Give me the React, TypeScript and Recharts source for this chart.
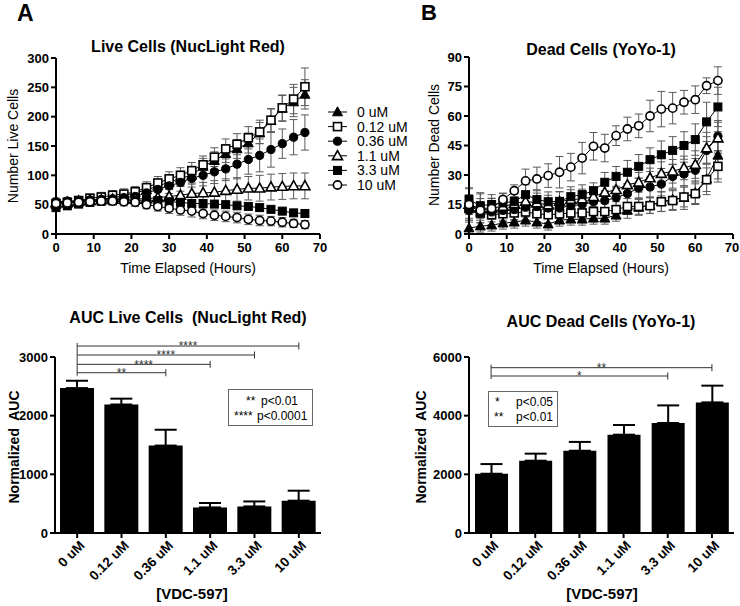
import React from 'react';
import {
  LineChart, Line, XAxis, YAxis, ErrorBar, Legend,
  BarChart, Bar, ReferenceLine,
} from 'recharts';

// ---------- Data ----------
const hours = [0, 3, 6, 9, 12, 15, 18, 21, 24, 27, 30, 33, 36, 39, 42, 45, 48, 51, 54, 57, 60, 63, 66];
const doseLabels = ['0 uM', '0.12 uM', '0.36 uM', '1.1 uM', '3.3 uM', '10 uM'];

// Live cells (NucLight Red) means
const live0 = [50, 52, 54, 57, 59, 62, 65, 70, 75, 82, 88, 95, 100, 115, 125, 137, 145, 155, 172, 193, 214, 225, 238];
const live012 = [52, 54, 57, 61, 63, 66, 68, 72, 79, 87, 94, 100, 108, 118, 131, 145, 153, 164, 174, 194, 215, 230, 251];
const live036 = [55, 56, 57, 58, 59, 60, 62, 64, 70, 76, 82, 88, 95, 100, 106, 111, 119, 127, 134, 144, 154, 165, 173];
const live11 = [53, 54, 56, 57, 58, 59, 59, 60, 60, 62, 64, 66, 69, 70, 71, 74, 76, 78, 78, 80, 81, 82, 82];
const live33 = [45, 48, 51, 54, 56, 57, 58, 57, 58, 57, 55, 54, 52, 52, 51, 50, 48, 47, 45, 42, 39, 36, 35];
const live10 = [52, 53, 54, 55, 56, 56, 55, 54, 50, 47, 44, 41, 39, 35, 32, 30, 28, 25, 23, 22, 20, 18, 16];
// Live cells errors
const live0Err = [6, 6, 7, 7, 8, 8, 8, 9, 10, 10, 12, 12, 13, 14, 15, 15, 16, 17, 18, 20, 22, 25, 25];
const live012Err = [5, 6, 6, 7, 8, 8, 9, 9, 10, 11, 12, 13, 14, 15, 16, 17, 18, 19, 20, 20, 22, 25, 32];
const live036Err = [6, 6, 7, 7, 8, 8, 8, 9, 10, 12, 13, 15, 15, 18, 20, 20, 25, 25, 28, 30, 25, 30, 30];
const live11Err = [6, 6, 7, 7, 7, 8, 8, 8, 9, 10, 12, 15, 16, 18, 20, 20, 20, 20, 22, 22, 22, 22, 22];
const live33Err = [6, 6, 6, 7, 7, 7, 7, 7, 7, 7, 7, 6, 6, 6, 5, 5, 5, 4, 4, 4, 4, 4, 4];
const live10Err = [6, 6, 6, 7, 7, 7, 7, 7, 7, 8, 9, 9, 10, 9, 9, 9, 9, 9, 9, 8, 8, 7, 7];

// Dead cells (YoYo-1) means
const dead0 = [3, 4, 4.5, 5.5, 6, 7, 6, 5, 7, 7.5, 7.5, 8, 8, 9.5, 12, 13.5, 14.5, 16.5, 17.5, 18.5, 21, 28, 40];
const dead012 = [13, 10.7, 9.8, 10.3, 10.7, 11.2, 10.3, 9.8, 10.2, 10.7, 10.7, 11.4, 11.4, 12.4, 14, 14, 14.4, 16.4, 17, 18.8, 20.5, 27.6, 34.4];
const dead036 = [12, 10.7, 11.2, 12, 12.4, 13.6, 14, 13.2, 13.2, 14.4, 15, 16.4, 17, 18.5, 20.5, 23.4, 23.9, 25.4, 29.3, 30.5, 32.4, 42.5, 49.7];
const dead11 = [15, 13, 13.2, 14, 15.4, 16.6, 15.8, 14.7, 16.4, 17.5, 17.8, 19, 21.2, 22.5, 25, 26.3, 28.5, 30.7, 31.9, 33.6, 35.3, 43.7, 48.8];
const dead33 = [17.5, 14.4, 15, 15.8, 16.6, 20, 17.5, 16.4, 16.6, 19, 20, 22, 26.3, 29.3, 31.4, 34.4, 37.8, 40.3, 42.5, 45, 48, 57, 64.6];
const dead10 = [15, 12, 13, 17.5, 22, 27, 28, 29.7, 31.4, 34, 38.6, 44.6, 43.7, 50, 53.4, 55, 60, 63.5, 64, 67, 68.3, 75.4, 78];
// Dead cells errors
const dead0Err = [3, 3, 3, 3, 3, 3, 3, 3, 3, 3, 3, 3, 3, 3, 4, 4, 4, 5, 5, 6, 6, 8, 12];
const dead012Err = [5, 5, 5, 4, 4, 4, 4, 4, 4, 4, 4, 4, 4, 4, 4, 4, 4, 5, 5, 5, 5, 6, 8];
const dead036Err = [5, 5, 5, 5, 5, 5, 5, 5, 5, 5, 5, 5, 5, 5, 5, 5, 5, 6, 6, 6, 6, 7, 8];
const dead11Err = [5, 5, 5, 5, 5, 5, 5, 5, 5, 5, 5, 5, 5, 5, 5, 5, 5, 6, 6, 6, 7, 8, 8];
const dead33Err = [6, 6, 5, 5, 5, 5, 5, 5, 5, 5, 5, 4, 5, 5, 6, 6, 6, 7, 7, 7, 8, 10, 10];
const dead10Err = [8, 9, 5, 3, 3, 6, 6, 6, 8, 7, 8, 7, 7, 5, 6, 6, 8, 9, 8, 6, 7, 4, 7];

// AUC bars
const aucLive = [2470, 2190, 1490, 436, 453, 551];
const aucLiveErr = [125, 100, 270, 75, 85, 170];
const aucDead = [2020, 2465, 2805, 3352, 3750, 4453];
const aucDeadErr = [330, 240, 300, 330, 600, 570];

// Tick labels
const timeTicks = [0, 10, 20, 30, 40, 50, 60, 70];
const liveTicks = [0, 50, 100, 150, 200, 250, 300];
const deadTicks = [0, 15, 30, 45, 60, 75, 90];
const aucLiveTicks = [0, 1000, 2000, 3000];
const aucDeadTicks = [0, 2000, 4000, 6000];

// Significance comparisons (from 0 uM)
const liveSig = [
  { to: '10 uM', y: 3187, stars: '****' },
  { to: '3.3 uM', y: 3034, stars: '****' },
  { to: '1.1 uM', y: 2875, stars: '****' },
  { to: '0.36 uM', y: 2732, stars: '**' },
];
const deadSig = [
  { to: '10 uM', y: 5636, stars: '**' },
  { to: '3.3 uM', y: 5352, stars: '*' },
];

// ---------- Build tables ----------
const keys = ['s0', 's012', 's036', 's11', 's33', 's10'];
const liveMeans = [live0, live012, live036, live11, live33, live10];
const liveErrs = [live0Err, live012Err, live036Err, live11Err, live33Err, live10Err];
const deadMeans = [dead0, dead012, dead036, dead11, dead33, dead10];
const deadErrs = [dead0Err, dead012Err, dead036Err, dead11Err, dead33Err, dead10Err];

function buildTable(means: number[][], errs: number[][]) {
  return hours.map((t, i) => {
    const row: any = { t };
    keys.forEach((k, j) => {
      row[k] = means[j][i];
      row['e' + k] = errs[j][i];
    });
    return row;
  });
}
const liveData = buildTable(liveMeans, liveErrs);
const deadData = buildTable(deadMeans, deadErrs);
const liveBarData = doseLabels.map((d, i) => ({ dose: d, v: aucLive[i], err: [0, aucLiveErr[i]] }));
const deadBarData = doseLabels.map((d, i) => ({ dose: d, v: aucDead[i], err: [0, aucDeadErr[i]] }));

// ---------- Styles ----------
const FONT = '"Liberation Sans", Arial, Helvetica, sans-serif';
const markerStyles = [
  { shape: 'triangle', filled: true },
  { shape: 'square', filled: false },
  { shape: 'circle', filled: true },
  { shape: 'triangle', filled: false },
  { shape: 'square', filled: true },
  { shape: 'circle', filled: false },
];

function Marker({ cx, cy, shape, filled }: any) {
  if (cx == null || cy == null) return null;
  const common = { fill: filled ? '#000' : '#fff', stroke: '#000', strokeWidth: filled ? 1 : 1.6 };
  if (shape === 'triangle')
    return <polygon points={`${cx},${cy - 5.2} ${cx - 5},${cy + 3.8} ${cx + 5},${cy + 3.8}`} {...common} />;
  if (shape === 'square') return <rect x={cx - 4} y={cy - 4} width={8} height={8} {...common} />;
  return <circle cx={cx} cy={cy} r={4.1} {...common} />;
}

const axisLine = { stroke: '#000', strokeWidth: 2 };
const tickLine = { stroke: '#000', strokeWidth: 2 };

function XTick(props: any) {
  const { x, y, payload } = props;
  return (
    <text x={x} y={y + 1} textAnchor="middle" dominantBaseline="hanging" fontSize={13} fontWeight={700}
      fill="#000" fontFamily={FONT}>{payload.value}</text>
  );
}
function YTick(props: any) {
  const { x, y, payload } = props;
  return (
    <text x={x} y={y} textAnchor="end" dominantBaseline="central" fontSize={13} fontWeight={700}
      fill="#000" fontFamily={FONT}>{payload.value}</text>
  );
}

function LegendBox() {
  return (
    <svg width={100} height={92} style={{ overflow: 'visible', display: 'block' }}>
      {doseLabels.map((d, i) => {
        const y = 8 + i * 14.6;
        const m = markerStyles[i];
        return (
          <g key={d}>
            <line x1={4} x2={23} y1={y} y2={y} stroke="#000" strokeWidth={1} />
            <Marker cx={13.5} cy={y} shape={m.shape} filled={m.filled} />
            <text x={33} y={y} dominantBaseline="central" fontSize={14} fill="#000" fontFamily={FONT}>{d}</text>
          </g>
        );
      })}
    </svg>
  );
}

function renderLines() {
  return keys.map((k, j) => {
    const m = markerStyles[j];
    return (
      <Line
        key={k}
        dataKey={k}
        name={doseLabels[j]}
        stroke="#000"
        strokeWidth={1}
        isAnimationActive={false}
        activeDot={false}
        dot={(p: any) => <Marker key={`${k}-${p.index}`} cx={p.cx} cy={p.cy} shape={m.shape} filled={m.filled} />}
      >
        <ErrorBar dataKey={'e' + k} width={4} stroke="#5a5a5a" strokeWidth={1} direction="y" />
      </Line>
    );
  });
}

function LiveLines() {
  return (
    <LineChart width={370} height={300} data={liveData} margin={{ top: 58, right: 50, bottom: 36, left: 0 }}>
      <XAxis type="number" dataKey="t" domain={[0, 70]} ticks={timeTicks} axisLine={axisLine} tickLine={tickLine}
        tickSize={5} tick={<XTick />} height={30} />
      <YAxis type="number" domain={[0, 300]} ticks={liveTicks} axisLine={axisLine} tickLine={tickLine}
        tickSize={5} tick={<YTick />} width={56} />
      {renderLines()}
      <Legend layout="vertical" align="center" verticalAlign="middle"
        wrapperStyle={{ left: 324, top: 104, width: 100, height: 92 }} content={() => <LegendBox />} />
    </LineChart>
  );
}

function DeadLines() {
  return (
    <LineChart width={370} height={300} data={deadData} margin={{ top: 57, right: 7, bottom: 36, left: 0 }}>
      <XAxis type="number" dataKey="t" domain={[0, 70]} ticks={timeTicks} axisLine={axisLine} tickLine={tickLine}
        tickSize={5} tick={<XTick />} height={30} />
      <YAxis type="number" domain={[0, 90]} ticks={deadTicks} axisLine={axisLine} tickLine={tickLine}
        tickSize={5} tick={<YTick />} width={99} />
      {renderLines()}
    </LineChart>
  );
}

function RotTick(props: any) {
  const { x, y, payload } = props;
  return (
    <text x={0} y={0} transform={`translate(${x + 5},${y + 3}) rotate(-45)`} textAnchor="end"
      dominantBaseline="central" fontSize={13.5} fontWeight={700} fill="#000" fontFamily={FONT}>
      {payload.value}
    </text>
  );
}

function sigLines(list: any[], capHalf: number, top: number, bottom: number) {
  const out: any[] = [];
  out.push(
    <ReferenceLine key="vert" ifOverflow="visible" stroke="#333" strokeWidth={1}
      segment={[{ x: '0 uM', y: top }, { x: '0 uM', y: bottom }]} />
  );
  list.forEach((s, i) => {
    out.push(
      <ReferenceLine key={'h' + i} ifOverflow="visible" stroke="#333" strokeWidth={1}
        segment={[{ x: '0 uM', y: s.y }, { x: s.to, y: s.y }]}
        label={{ value: s.stars, position: 'center', fontSize: 12, fill: '#333', fontFamily: FONT }} />
    );
    out.push(
      <ReferenceLine key={'c' + i} ifOverflow="visible" stroke="#333" strokeWidth={1}
        segment={[{ x: s.to, y: s.y + capHalf }, { x: s.to, y: s.y - capHalf }]} />
    );
  });
  return out;
}

function LiveBars() {
  return (
    <BarChart width={370} height={306} data={liveBarData} margin={{ top: 57, right: 49, bottom: 13, left: 0 }}>
      <XAxis dataKey="dose" type="category" interval={0} axisLine={axisLine} tickLine={tickLine} tickSize={5}
        tick={<RotTick />} height={60} />
      <YAxis type="number" domain={[0, 3000]} ticks={aucLiveTicks} axisLine={axisLine} tickLine={tickLine}
        tickSize={5} tick={<YTick />} width={55} />
      <Bar dataKey="v" fill="#000" barSize={34} isAnimationActive={false}>
        <ErrorBar dataKey="err" width={11} stroke="#000" strokeWidth={2} direction="y" />
      </Bar>
      {sigLines(liveSig, 60, 3240, 2680)}
    </BarChart>
  );
}

function DeadBars() {
  return (
    <BarChart width={370} height={306} data={deadBarData} margin={{ top: 57, right: 6, bottom: 13, left: 0 }}>
      <XAxis dataKey="dose" type="category" interval={0} axisLine={axisLine} tickLine={tickLine} tickSize={5}
        tick={<RotTick />} height={60} />
      <YAxis type="number" domain={[0, 6000]} ticks={aucDeadTicks} axisLine={axisLine} tickLine={tickLine}
        tickSize={5} tick={<YTick />} width={99} />
      <Bar dataKey="v" fill="#000" barSize={33} isAnimationActive={false}>
        <ErrorBar dataKey="err" width={11} stroke="#000" strokeWidth={2} direction="y" />
      </Bar>
      {sigLines(deadSig, 120, 5740, 5250)}
    </BarChart>
  );
}

function Txt({ x, y, size = 14, bold = false, rotate = 0, children }: any) {
  return (
    <div style={{
      position: 'absolute', left: x, top: y, transform: `translate(-50%, -50%) rotate(${rotate}deg)`,
      fontSize: size, fontWeight: bold ? 'bold' : 'normal', whiteSpace: 'pre', lineHeight: 1, color: '#000',
      fontFamily: FONT,
    }}>{children}</div>
  );
}

function Abs({ x, y, size = 12, children }: any) {
  return (
    <div style={{ position: 'absolute', left: x, top: y, transform: 'translateY(-50%)', fontSize: size,
      whiteSpace: 'pre', lineHeight: 1, color: '#000', fontFamily: FONT }}>{children}</div>
  );
}

export default function App() {
  return (
    <div style={{ position: 'absolute', left: 0, top: 0, width: 740, height: 606, background: '#fff',
      overflow: 'hidden', fontFamily: FONT }}>
      <div style={{ position: 'absolute', left: 0, top: 0 }}><LiveLines /></div>
      <div style={{ position: 'absolute', left: 370, top: 0 }}><DeadLines /></div>
      <div style={{ position: 'absolute', left: 0, top: 300 }}><LiveBars /></div>
      <div style={{ position: 'absolute', left: 370, top: 300 }}><DeadBars /></div>

      {/* panel letters */}
      <div style={{ position: 'absolute', left: 17, top: 2, fontSize: 23, lineHeight: 1, fontWeight: 'bold', fontFamily: FONT }}>A</div>
      <div style={{ position: 'absolute', left: 421, top: 2, fontSize: 22, lineHeight: 1, fontWeight: 'bold', fontFamily: FONT }}>B</div>

      {/* titles */}
      <Txt x={188} y={47} size={16} bold>Live Cells (NucLight Red)</Txt>
      <Txt x={601} y={50} size={16} bold>Dead Cells (YoYo-1)</Txt>
      <Txt x={188} y={318} size={16} bold>{'AUC Live Cells  (NucLight Red)'}</Txt>
      <Txt x={601} y={322} size={16} bold>AUC Dead Cells (YoYo-1)</Txt>

      {/* axis titles */}
      <Txt x={13} y={146} rotate={-90}>Number Live Cells</Txt>
      <Txt x={434} y={145} rotate={-90}>Number Dead Cells</Txt>
      <Txt x={188} y={268}>Time Elapsed (Hours)</Txt>
      <Txt x={601} y={268}>Time Elapsed (Hours)</Txt>
      <Txt x={14} y={447} rotate={-90} bold>{'Normalized  AUC'}</Txt>
      <Txt x={421} y={447} rotate={-90} bold>{'Normalized  AUC'}</Txt>
      <Txt x={192} y={593} size={15} bold>[VDC-597]</Txt>
      <Txt x={602} y={593} size={15} bold>[VDC-597]</Txt>

      {/* significance keys */}
      <div style={{ position: 'absolute', left: 228, top: 389, width: 85, height: 37, border: '1px solid #666', boxSizing: 'border-box' }} />
      <Abs x={246} y={401}>**</Abs>
      <Abs x={261} y={401}>p&lt;0.01</Abs>
      <Abs x={234} y={416}>****</Abs>
      <Abs x={257} y={416}>p&lt;0.0001</Abs>

      <div style={{ position: 'absolute', left: 488, top: 391, width: 70, height: 36, border: '1px solid #666', boxSizing: 'border-box' }} />
      <Abs x={495} y={402}>*</Abs>
      <Abs x={494} y={417}>**</Abs>
      <Abs x={516} y={402}>p&lt;0.05</Abs>
      <Abs x={516} y={417}>p&lt;0.01</Abs>
    </div>
  );
}
